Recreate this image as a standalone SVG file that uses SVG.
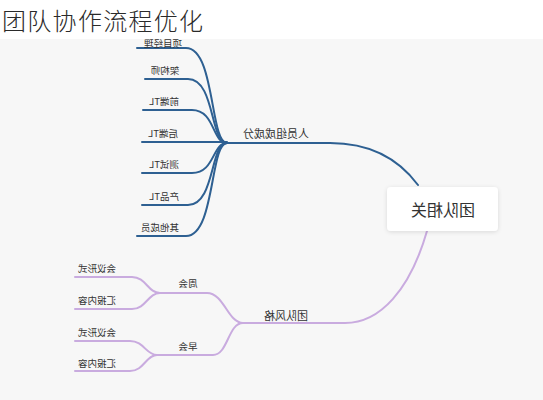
<svg xmlns="http://www.w3.org/2000/svg" width="543" height="400" viewBox="0 0 543 400">
<defs>
<style>
.title{font-family:"Noto Sans CJK SC","Noto Sans",sans-serif;font-size:24px;letter-spacing:1.3px;fill:#2a2a2a;font-weight:300}
.t{font-family:"Noto Sans CJK SC","Noto Sans",sans-serif;fill:#333;text-anchor:middle;dominant-baseline:central}
.leaf{font-size:9.5px}
.br{font-size:11px}
.root{font-size:16px}
.b{fill:none;stroke:#2e6092;stroke-width:2;stroke-linecap:round}
.p{fill:none;stroke:#c9abdf;stroke-width:2;stroke-linecap:round}
</style>
<filter id="sh" x="-20%" y="-30%" width="140%" height="160%">
<feDropShadow dx="0" dy="1" stdDeviation="2" flood-color="#000" flood-opacity="0.12"/>
</filter>
</defs>
<rect x="0" y="0" width="543" height="400" fill="#f7f7f7"/>
<rect x="0" y="0" width="543" height="39" fill="#ffffff"/>
<text class="title" x="2" y="30">团队协作流程优化</text>

<g id="connectors">
<path class="b" d="M418,185 C398,158 370,143 330,143 L227,143"/>
<path class="b" d="M137,48 H186 C215,48 210,143 227,143"/>
<path class="b" d="M145,79 H188 C215,79 210,143 227,143"/>
<path class="b" d="M143,110 H192 C215,110 212,143 227,143"/>
<path class="b" d="M142,142 H227"/>
<path class="b" d="M142,173 H192 C215,173 212,143 227,143"/>
<path class="b" d="M142,205 H188 C215,205 210,143 227,143"/>
<path class="b" d="M137,236 H186 C215,236 210,143 227,143"/>
<path class="p" d="M427,231 C410,290 380,323 345,323 L243,323"/>
<path class="p" d="M243,323 C228,323 224,293 207,293 L160,293"/>
<path class="p" d="M243,323 C228,323 228,355 213,355 L157,355"/>
<path class="p" d="M75,277 H132 C146,277 148,293 160,293"/>
<path class="p" d="M75,309 H132 C146,309 148,293 160,293"/>
<path class="p" d="M75,341 H130 C144,341 146,355 157,355"/>
<path class="p" d="M75,371 H130 C144,371 146,355 157,355"/>
</g>

<g id="root">
<rect x="387" y="187" width="111" height="44" rx="4" fill="#ffffff" filter="url(#sh)"/>
<text class="t root" transform="scale(-1,1)" x="-443" y="209">团队相关</text>
</g>
<g id="b1"><text class="t br" transform="scale(-1,1)" x="-276" y="133">人员组成成分</text></g>
<g id="l1"><text class="t leaf" transform="scale(-1,1)" x="-163" y="42.5" font-size="9">项目经理</text></g>
<g id="l2"><text class="t leaf" transform="scale(-1,1)" x="-165" y="70">架构师</text></g>
<g id="l3"><text class="t leaf" transform="scale(-1,1)" x="-164" y="101">前端TL</text></g>
<g id="l4"><text class="t leaf" transform="scale(-1,1)" x="-163" y="133">后端TL</text></g>
<g id="l5"><text class="t leaf" transform="scale(-1,1)" x="-164" y="164">测试TL</text></g>
<g id="l6"><text class="t leaf" transform="scale(-1,1)" x="-164" y="196">产品TL</text></g>
<g id="l7"><text class="t leaf" transform="scale(-1,1)" x="-160" y="227">其他成员</text></g>
<g id="b2"><text class="t br" transform="scale(-1,1)" x="-286" y="315">团队风格</text></g>
<g id="s1"><text class="t leaf" transform="scale(-1,1)" x="-188" y="283">周会</text></g>
<g id="s2"><text class="t leaf" transform="scale(-1,1)" x="-188" y="346">早会</text></g>
<g id="s1a"><text class="t leaf" transform="scale(-1,1)" x="-97" y="268">会议形式</text></g>
<g id="s1b"><text class="t leaf" transform="scale(-1,1)" x="-97" y="300">汇报内容</text></g>
<g id="s2a"><text class="t leaf" transform="scale(-1,1)" x="-97" y="332">会议形式</text></g>
<g id="s2b"><text class="t leaf" transform="scale(-1,1)" x="-97" y="363">汇报内容</text></g>
</svg>
